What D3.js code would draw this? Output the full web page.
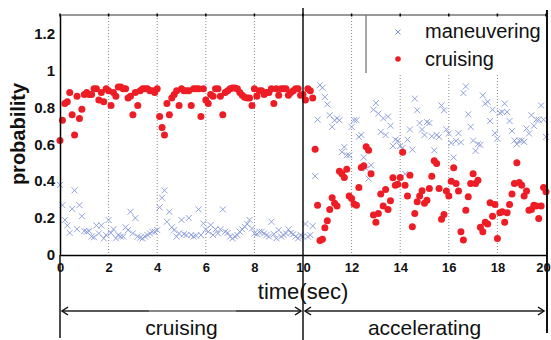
<!DOCTYPE html>
<html><head><meta charset="utf-8">
<script src="https://cdn.jsdelivr.net/npm/d3@7"></script>
<style>body{margin:0;background:#fff} svg{display:block}</style>
</head><body><svg id="c" width="551" height="340"></svg>
<script>
// sampling of the time axis
const t0 = 0, dt = 0.1;
// "cruising" probability (red dots), t = 0 .. 10
const cruisingPhase1 = [0.62,0.73,0.82,0.83,0.88,0.76,0.65,0.86,0.74,0.79,
 0.87,0.88,0.87,0.87,0.90,0.90,0.84,0.88,0.83,0.90,
 0.89,0.81,0.88,0.86,0.91,0.91,0.90,0.90,0.85,0.86,
 0.76,0.88,0.81,0.89,0.90,0.90,0.90,0.89,0.89,0.88,
 0.90,0.75,0.69,0.65,0.82,0.76,0.85,0.87,0.89,0.81,
 0.90,0.89,0.89,0.89,0.81,0.90,0.90,0.90,0.75,0.90,
 0.84,0.82,0.87,0.86,0.90,0.90,0.86,0.76,0.88,0.89,
 0.90,0.905,0.905,0.90,0.88,0.865,0.855,0.85,0.85,0.81,
 0.90,0.86,0.89,0.89,0.87,0.88,0.88,0.90,0.82,0.90,
 0.865,0.90,0.90,0.90,0.865,0.88,0.89,0.90,0.90,0.865,
 0.87];
// "cruising" probability (red dots), t = 10.1 .. 20
const cruisingPhase2 = [0.84,0.90,0.89,0.85,0.573,0.27,0.078,0.085,0.148,0.186,
 0.247,0.31,0.28,0.265,0.454,0.44,0.42,0.465,0.32,0.306,
 0.276,0.27,0.366,0.474,0.483,0.586,0.568,0.44,0.216,0.177,
 0.225,0.33,0.265,0.355,0.247,0.294,0.418,0.378,0.383,0.42,
 0.557,0.378,0.32,0.432,0.153,0.225,0.288,0.32,0.348,0.28,
 0.297,0.36,0.427,0.51,0.495,0.36,0.193,0.22,0.346,0.32,
 0.40,0.472,0.387,0.346,0.126,0.081,0.243,0.315,0.387,0.44,
 0.387,0.405,0.15,0.126,0.177,0.168,0.283,0.21,0.274,0.09,
 0.229,0.234,0.177,0.229,0.274,0.33,0.387,0.50,0.393,0.378,
 0.32,0.346,0.243,0.247,0.27,0.265,0.198,0.265,0.366,0.342];
// "maneuvering" probability (blue crosses), t = 0 .. 10
const maneuveringPhase1 = [0.38,0.27,0.19,0.16,0.12,0.25,0.35,0.14,0.27,0.21,
 0.13,0.126,0.13,0.10,0.096,0.16,0.117,0.16,0.09,0.108,
 0.19,0.12,0.14,0.09,0.108,0.10,0.10,0.15,0.135,0.234,
 0.117,0.20,0.10,0.094,0.09,0.10,0.108,0.117,0.126,0.126,
 0.135,0.258,0.31,0.35,0.18,0.234,0.15,0.135,0.10,0.117,
 0.19,0.113,0.108,0.2,0.108,0.10,0.105,0.247,0.108,0.171,
 0.139,0.126,0.162,0.108,0.139,0.117,0.139,0.247,0.126,0.12,
 0.10,0.09,0.10,0.108,0.126,0.139,0.153,0.168,0.19,0.144,
 0.117,0.113,0.126,0.126,0.117,0.108,0.10,0.18,0.113,0.09,
 0.135,0.10,0.108,0.117,0.139,0.12,0.113,0.10,0.09,0.108,
 0.10];
// "maneuvering" probability (blue crosses), t = 10.1 .. 20
const maneuveringPhase2 = [0.168,0.10,0.108,0.157,0.427,0.733,0.92,0.906,0.856,0.816,
 0.757,0.694,0.73,0.74,0.73,0.558,0.585,0.54,0.54,0.694,
 0.73,0.73,0.64,0.65,0.528,0.468,0.414,0.486,0.787,0.823,
 0.766,0.667,0.74,0.65,0.75,0.70,0.59,0.625,0.618,0.59,
 0.58,0.44,0.625,0.68,0.571,0.847,0.784,0.715,0.68,0.65,
 0.72,0.715,0.643,0.567,0.65,0.64,0.81,0.784,0.68,0.658,
 0.607,0.528,0.618,0.66,0.61,0.877,0.913,0.762,0.694,0.62,
 0.564,0.6,0.597,0.865,0.82,0.83,0.726,0.787,0.66,0.63,
 0.77,0.775,0.82,0.775,0.726,0.672,0.62,0.60,0.62,0.62,
 0.613,0.685,0.658,0.757,0.70,0.733,0.733,0.81,0.733,0.64];

const xTicks = [0,2,4,6,8,10,12,14,16,18,20];
const yTicks = [0,0.2,0.4,0.6,0.8,1,1.2];
const gridTicks = [2,4,6,8,12,14,16,18];
const seriesNames = ["maneuvering","cruising"];
const phaseNames = ["cruising","accelerating"];
const phaseBounds = [0,10,20];
const xLabel = "time(sec)", yLabel = "probability";

const font = "'Liberation Sans', Arial, sans-serif";
const svg = d3.select("#c");
const x = d3.scaleLinear().domain([0,20]).range([60,546]);
const y = d3.scaleLinear().domain([0,1.3]).range([255,15]);

const cruising = cruisingPhase1.concat(cruisingPhase2).map((v,i)=>({t:t0+i*dt, v}));
const maneuvering = maneuveringPhase1.concat(maneuveringPhase2).map((v,i)=>({t:t0+i*dt, v}));

// grid
svg.append("g").selectAll("line").data(gridTicks).join("line")
  .attr("x1",d=>x(d)).attr("x2",d=>x(d)).attr("y1",y(1.3)).attr("y2",y(0))
  .attr("stroke","#8a8a8a").attr("stroke-width",1).attr("stroke-dasharray","1,2");

// blue crosses
svg.append("g").selectAll("path").data(maneuvering).join("path")
  .attr("transform",d=>`translate(${x(d.t)},${y(d.v)})`)
  .attr("d","M-3,-3L3,3M-3,3L3,-3")
  .attr("stroke","#8798d8").attr("stroke-width",1).attr("fill","none").attr("opacity",0.9);

// red dots
svg.append("g").selectAll("circle").data(cruising).join("circle")
  .attr("cx",d=>x(d.t)).attr("cy",d=>y(d.v)).attr("r",3.5)
  .attr("fill","#ee1d25");

// legend
const lg = svg.append("g");
lg.append("rect").attr("x",366).attr("y",y(1.3)).attr("width",x(20)-366).attr("height",58).attr("fill","#fff");
lg.append("line").attr("x1",366).attr("x2",366).attr("y1",y(1.3)).attr("y2",y(1.3)+58)
  .attr("stroke","#888").attr("stroke-width",1.5);
lg.append("path").attr("transform","translate(398,32)").attr("d","M-2.5,-2.5L2.5,2.5M-2.5,2.5L2.5,-2.5")
  .attr("stroke","#7f90d4").attr("stroke-width",1).attr("fill","none");
lg.append("circle").attr("cx",398).attr("cy",59).attr("r",2.8).attr("fill","#ee1d25");
lg.selectAll("text").data(seriesNames).join("text")
  .attr("x",425).attr("y",(d,i)=>38+i*27.5)
  .attr("font-family",font).attr("font-size",20).attr("fill","#111").text(d=>d);

// top border and top ticks
svg.append("line").attr("x1",x(0)).attr("x2",x(20)).attr("y1",y(1.3)).attr("y2",y(1.3))
  .attr("stroke","#777").attr("stroke-width",1.5);
svg.append("g").selectAll("line").data(xTicks).join("line")
  .attr("x1",d=>x(d)).attr("x2",d=>x(d)).attr("y1",y(1.3)-1.5).attr("y2",y(1.3)+1.5)
  .attr("stroke","#000").attr("stroke-width",1.5);

// axes
const yAxis = svg.append("g").attr("transform",`translate(${x(0)},0)`)
  .call(d3.axisLeft(y).tickValues(yTicks).tickSize(0).tickPadding(5).tickFormat(d=>d3.format("~g")(d)));
yAxis.select(".domain").attr("stroke","#000").attr("stroke-width",1.5);
yAxis.selectAll("text").attr("font-family",font).attr("font-size",15).attr("font-weight","bold").attr("fill","#111");

const xAxis = svg.append("g").attr("transform",`translate(0,${y(0)})`)
  .call(d3.axisBottom(x).tickValues(xTicks).tickSize(0).tickPadding(8));
xAxis.select(".domain").attr("stroke","#000").attr("stroke-width",1.5);
xAxis.selectAll("text").attr("font-family",font).attr("font-size",13).attr("font-weight","bold").attr("fill","#111");
// keep the last label inside the picture
xAxis.selectAll(".tick").filter(d=>d===20).select("text").attr("dx",-3);

// phase boundary lines
svg.append("line").attr("x1",x(0)).attr("x2",x(0)).attr("y1",y(0)).attr("y2",338).attr("stroke","#111").attr("stroke-width",1.5);
svg.append("line").attr("x1",x(10)).attr("x2",x(10)).attr("y1",8).attr("y2",340).attr("stroke","#111").attr("stroke-width",1.5);
svg.append("line").attr("x1",x(20)+1).attr("x2",x(20)+1).attr("y1",10).attr("y2",333).attr("stroke","#111").attr("stroke-width",2);

// axis titles
svg.append("text").attr("x",x(10)).attr("y",299).attr("text-anchor","middle")
  .attr("font-family",font).attr("font-size",22).attr("fill","#111").text(xLabel);
svg.append("text").attr("transform",`translate(25,134) rotate(-90)`).attr("text-anchor","middle")
  .attr("font-family",font).attr("font-size",20).attr("font-weight","bold").attr("fill","#111").text(yLabel);

// phase arrows
const ay = 311;
phaseNames.forEach((name,i)=>{
  const a = x(phaseBounds[i])+2, b = x(phaseBounds[i+1])-2;
  svg.append("line").attr("x1",a).attr("x2",b).attr("y1",ay).attr("y2",ay).attr("stroke","#222").attr("stroke-width",1.5);
  svg.append("path").attr("d",`M${a+6},${ay-4}L${a},${ay}L${a+6},${ay+4}M${b-6},${ay-4}L${b},${ay}L${b-6},${ay+4}`)
    .attr("stroke","#111").attr("stroke-width",1.5).attr("fill","none");
  svg.append("text").attr("x",(x(phaseBounds[i])+x(phaseBounds[i+1]))/2).attr("y",335)
    .attr("text-anchor","middle").attr("font-family",font).attr("font-size",21).attr("fill","#111").text(name);
});
// lighter segment on the first arrow, as in the source image
svg.append("line").attr("x1",149).attr("x2",236).attr("y1",ay).attr("y2",ay).attr("stroke","#999").attr("stroke-width",1.5);
</script></body></html>
